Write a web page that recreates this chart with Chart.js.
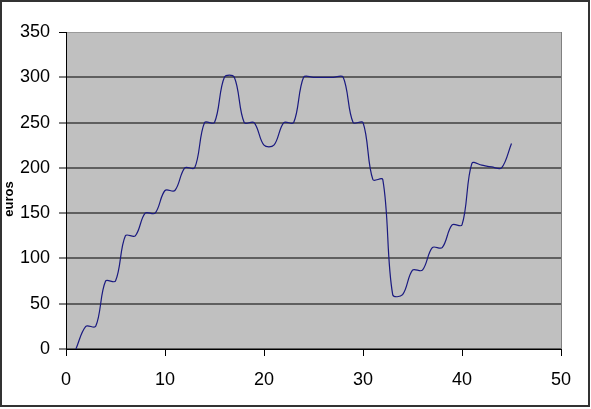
<!DOCTYPE html>
<html>
<head>
<meta charset="utf-8">
<script src="https://cdn.jsdelivr.net/npm/chart.js@4/dist/chart.umd.min.js"></script>
<style>
  body { margin: 0; background: #fff; }
  #wrap { width: 591px; height: 409px; }
</style>
</head>
<body>
<div id="wrap"><canvas id="euroChart" width="591" height="409"></canvas></div>
<script>
// x values (days) and amounts in euros
const days = [1, 2, 3, 4, 5, 6, 7, 8, 9, 10, 11, 12, 13, 14, 15, 16, 17, 18, 19, 20,
  21, 22, 23, 24, 25, 26, 27, 28, 29, 30, 31, 32, 33, 34, 35, 36, 37, 38, 39, 40,
  41, 42, 43, 44, 45];
const euros = [0, 25, 25, 75, 75, 125, 125, 150, 150, 175, 175, 200, 200, 250, 250, 300, 300, 250, 250, 225,
  225, 250, 250, 300, 300, 300, 300, 300, 250, 250, 187, 187, 60, 60, 87, 87, 112, 112, 137, 137,
  205, 203, 201, 200, 227];
const yTicks = [0, 50, 100, 150, 200, 250, 300, 350];
const xTicks = [0, 10, 20, 30, 40, 50];
const yTitle = "euros";

const FONT = "'Liberation Sans', Arial, sans-serif";

// grey plot area, outer frame and rotated axis title
const excelLook = {
  id: "excelLook",
  beforeDraw(chart) {
    const ctx = chart.ctx;
    const a = chart.chartArea;
    ctx.save();
    ctx.fillStyle = "#fff";
    ctx.fillRect(0, 0, chart.width, chart.height);
    ctx.fillStyle = "#c0c0c0";
    ctx.fillRect(a.left, a.top, a.right - a.left, a.bottom - a.top);
    ctx.restore();
  },
  afterDraw(chart) {
    const ctx = chart.ctx;
    ctx.save();
    ctx.strokeStyle = "#333";
    ctx.lineWidth = 2;
    ctx.strokeRect(1, 1, 588, 405);
    ctx.translate(9, 199);
    ctx.rotate(-Math.PI / 2);
    ctx.fillStyle = "#000";
    ctx.font = "bold 13px " + FONT;
    ctx.textAlign = "center";
    ctx.textBaseline = "middle";
    ctx.fillText(yTitle, 0, 0);
    ctx.restore();
  },
};

const ctx = document.getElementById("euroChart").getContext("2d");
new Chart(ctx, {
  type: "scatter",
  data: {
    datasets: [{
      data: days.map((d, i) => ({ x: d, y: euros[i] })),
      showLine: true,
      borderColor: "#1a1a80",
      borderWidth: 1.2,
      pointRadius: 0,
      tension: 0.35,
    }],
  },
  options: {
    responsive: false,
    animation: false,
    events: [],
    layout: { padding: { top: 32, right: 30, left: 0, bottom: 0 } },
    plugins: { legend: { display: false }, tooltip: { enabled: false } },
    scales: {
      x: {
        type: "linear",
        min: 0,
        max: 50,
        afterBuildTicks: (s) => { s.ticks = xTicks.map((v) => ({ value: v })); },
        afterFit: (s) => { s.height = 60; },
        ticks: { color: "#000", font: { family: FONT, size: 18 }, padding: 13, maxRotation: 0 },
        grid: {
          color: (c) => (c.tick && c.tick.value === 50 ? "#808080" : "rgba(0,0,0,0)"),
          tickColor: "#000",
          tickLength: 7,
          lineWidth: 1,
        },
        border: { color: "#000", width: 1 },
      },
      y: {
        min: 0,
        max: 350,
        afterBuildTicks: (s) => { s.ticks = yTicks.map((v) => ({ value: v })); },
        afterFit: (s) => { s.width = 66; },
        ticks: { color: "#000", font: { family: FONT, size: 18 }, padding: 9 },
        grid: {
          color: (c) => (c.tick && c.tick.value === 350 ? "#9a9a9a" : "#5f5f5f"),
          lineWidth: (c) => (c.tick && c.tick.value === 350 ? 1 : 2),
          tickColor: "#000",
          tickWidth: 1,
          tickLength: 7,
        },
        border: { color: "#000", width: 1 },
      },
    },
  },
  plugins: [excelLook],
});
</script>
</body>
</html>
